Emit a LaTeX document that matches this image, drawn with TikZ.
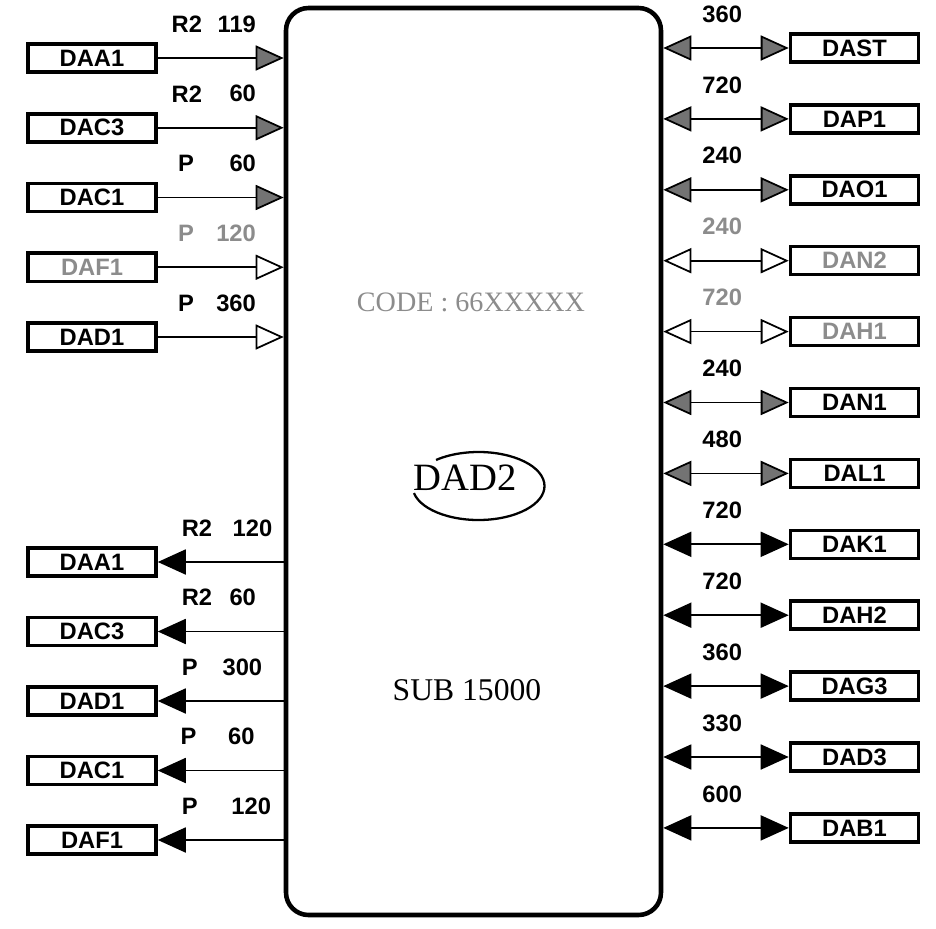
\documentclass[tikz,border=0pt]{standalone}
\usepackage{fontspec}
\setmainfont{Liberation Serif}
\setsansfont{Liberation Sans}
\usetikzlibrary{arrows.meta}

\begin{document}
\begin{tikzpicture}[>={Triangle[length=5.6mm, width=5mm]}, line width=1pt,
	gtip/.tip={Triangle[length=5.6mm, width=5mm, fill=black!55]},
	otip/.tip={Triangle[length=5.6mm, width=5mm, open, fill=white]}]
    \tikzstyle{port} = [draw, line width=2pt, minimum width=2.56cm,
	minimum height=5.6mm, inner sep=0pt,
	font=\sffamily\bfseries\fontsize{13.5}{15}\selectfont]
    \tikzstyle{tag} = [font=\sffamily\bfseries\fontsize{13.5}{15}\selectfont,
	inner sep=1pt, yshift=4.6mm, anchor=south]
    \tikzstyle{tagl} = [tag, anchor=south west]
    \tikzstyle{tagr} = [tag, anchor=south east]
    \tikzstyle{faded} = [text=black!45]
	\useasboundingbox (0,0) rectangle (18.72,-18.58);
	\node[draw, line width=2.6pt, rounded corners=4.5mm, minimum width=7.5cm,
		minimum height=18.14cm] (Sub) at (9.47,-9.23) {};
	\node[faded, font=\fontsize{16}{16}\selectfont] (Code) at (9.42,-6.04) {CODE : 66XXXXX};
	\node[font=\fontsize{22}{22}\selectfont] (Dad) at (9.30,-9.56) {DAD2};
	\draw[line width=1.3pt] (Dad.center) ++(0.27,-0.16) ++(192:1.32 and 0.68)
		arc[start angle=192, end angle=490, x radius=1.32cm, y radius=0.68cm];
	\node[font=\fontsize{18}{18}\selectfont] (Num) at (9.34,-13.8) {SUB 15000};
	\begin{scope}[node distance=1.395cm]
		\path
			node[port] at (1.84,-1.16) (iA) {DAA1}
			node[port, below of= iA] (iC3) {DAC3}
			node[port, below of= iC3] (iC1) {DAC1}
			node[port, below of= iC1, faded] (iF) {DAF1}
			node[port, below of= iF] (iD) {DAD1}
			(iA) edge[-gtip] node[tagl, pos=0.09] {R2} node[tagr, pos=0.8] {119} (iA -| Sub.west)
			(iC3) edge[-gtip] node[tagl, pos=0.09] {R2} node[tagr, pos=0.8] {60} (iC3 -| Sub.west)
			(iC1) edge[-gtip] node[tagl, pos=0.14] {P} node[tagr, pos=0.8] {60} (iC1 -| Sub.west)
			(iF) edge[-otip] node[tagl, faded, pos=0.14] {P} node[tagr, faded, pos=0.8] {120} (iF -| Sub.west)
			(iD) edge[-otip] node[tagl, pos=0.14] {P} node[tagr, pos=0.8] {360} (iD -| Sub.west)
			;
	\end{scope}
	\begin{scope}[node distance=1.39cm]
		\path
			node[port] at (1.84,-11.24) (oA) {DAA1}
			node[port, below of= oA] (oC3) {DAC3}
			node[port, below of= oC3] (oD) {DAD1}
			node[port, below of= oD] (oC1) {DAC1}
			node[port, below of= oC1] (oF) {DAF1}
			(oA -| Sub.west) edge[->] node[tagr, pos=0.07] {120} node[tagl, pos=0.83] {R2} (oA)
			(oC3 -| Sub.west) edge[->] node[tagr, pos=0.2] {60} node[tagl, pos=0.83] {R2} (oC3)
			(oD -| Sub.west) edge[->] node[tagr, pos=0.15] {300} node[tagl, pos=0.83] {P} (oD)
			(oC1 -| Sub.west) edge[->] node[tagr, pos=0.21] {60} node[tagl, pos=0.84] {P} (oC1)
			(oF -| Sub.west) edge[->] node[tagr, pos=0.08] {120} node[tagl, pos=0.83] {P} (oF)
			;
	\end{scope}
	\begin{scope}[node distance=1.418cm]
		\path
			node[port] at (17.09,-0.96) (rS) {DAST}
			node[port, below of= rS] (rP) {DAP1}
			node[port, below of= rP] (rO) {DAO1}
			node[port, below of= rO, faded] (rN2) {DAN2}
			node[port, below of= rN2, faded] (rH1) {DAH1}
			node[port, below of= rH1] (rN1) {DAN1}
			node[port, below of= rN1] (rL) {DAL1}
			node[port, below of= rL] (rK) {DAK1}
			node[port, below of= rK] (rH2) {DAH2}
			node[port, below of= rH2] (rG) {DAG3}
			node[port, below of= rG] (rD) {DAD3}
			node[port, below of= rD] (rB) {DAB1}
			(rS -| Sub.east) edge[gtip-gtip] node[tag, pos=0.47] {360} (rS)
			(rP -| Sub.east) edge[gtip-gtip] node[tag, pos=0.47] {720} (rP)
			(rO -| Sub.east) edge[gtip-gtip] node[tag, pos=0.47] {240} (rO)
			(rN2 -| Sub.east) edge[otip-otip] node[tag, faded, pos=0.47] {240} (rN2)
			(rH1 -| Sub.east) edge[otip-otip] node[tag, faded, pos=0.47] {720} (rH1)
			(rN1 -| Sub.east) edge[gtip-gtip] node[tag, pos=0.47] {240} (rN1)
			(rL -| Sub.east) edge[gtip-gtip] node[tag, pos=0.47] {480} (rL)
			(rK -| Sub.east) edge[<->] node[tag, pos=0.47] {720} (rK)
			(rH2 -| Sub.east) edge[<->] node[tag, pos=0.47] {720} (rH2)
			(rG -| Sub.east) edge[<->] node[tag, pos=0.47] {360} (rG)
			(rD -| Sub.east) edge[<->] node[tag, pos=0.47] {330} (rD)
			(rB -| Sub.east) edge[<->] node[tag, pos=0.47] {600} (rB)
			;
	\end{scope}
\end{tikzpicture}
\end{document}
